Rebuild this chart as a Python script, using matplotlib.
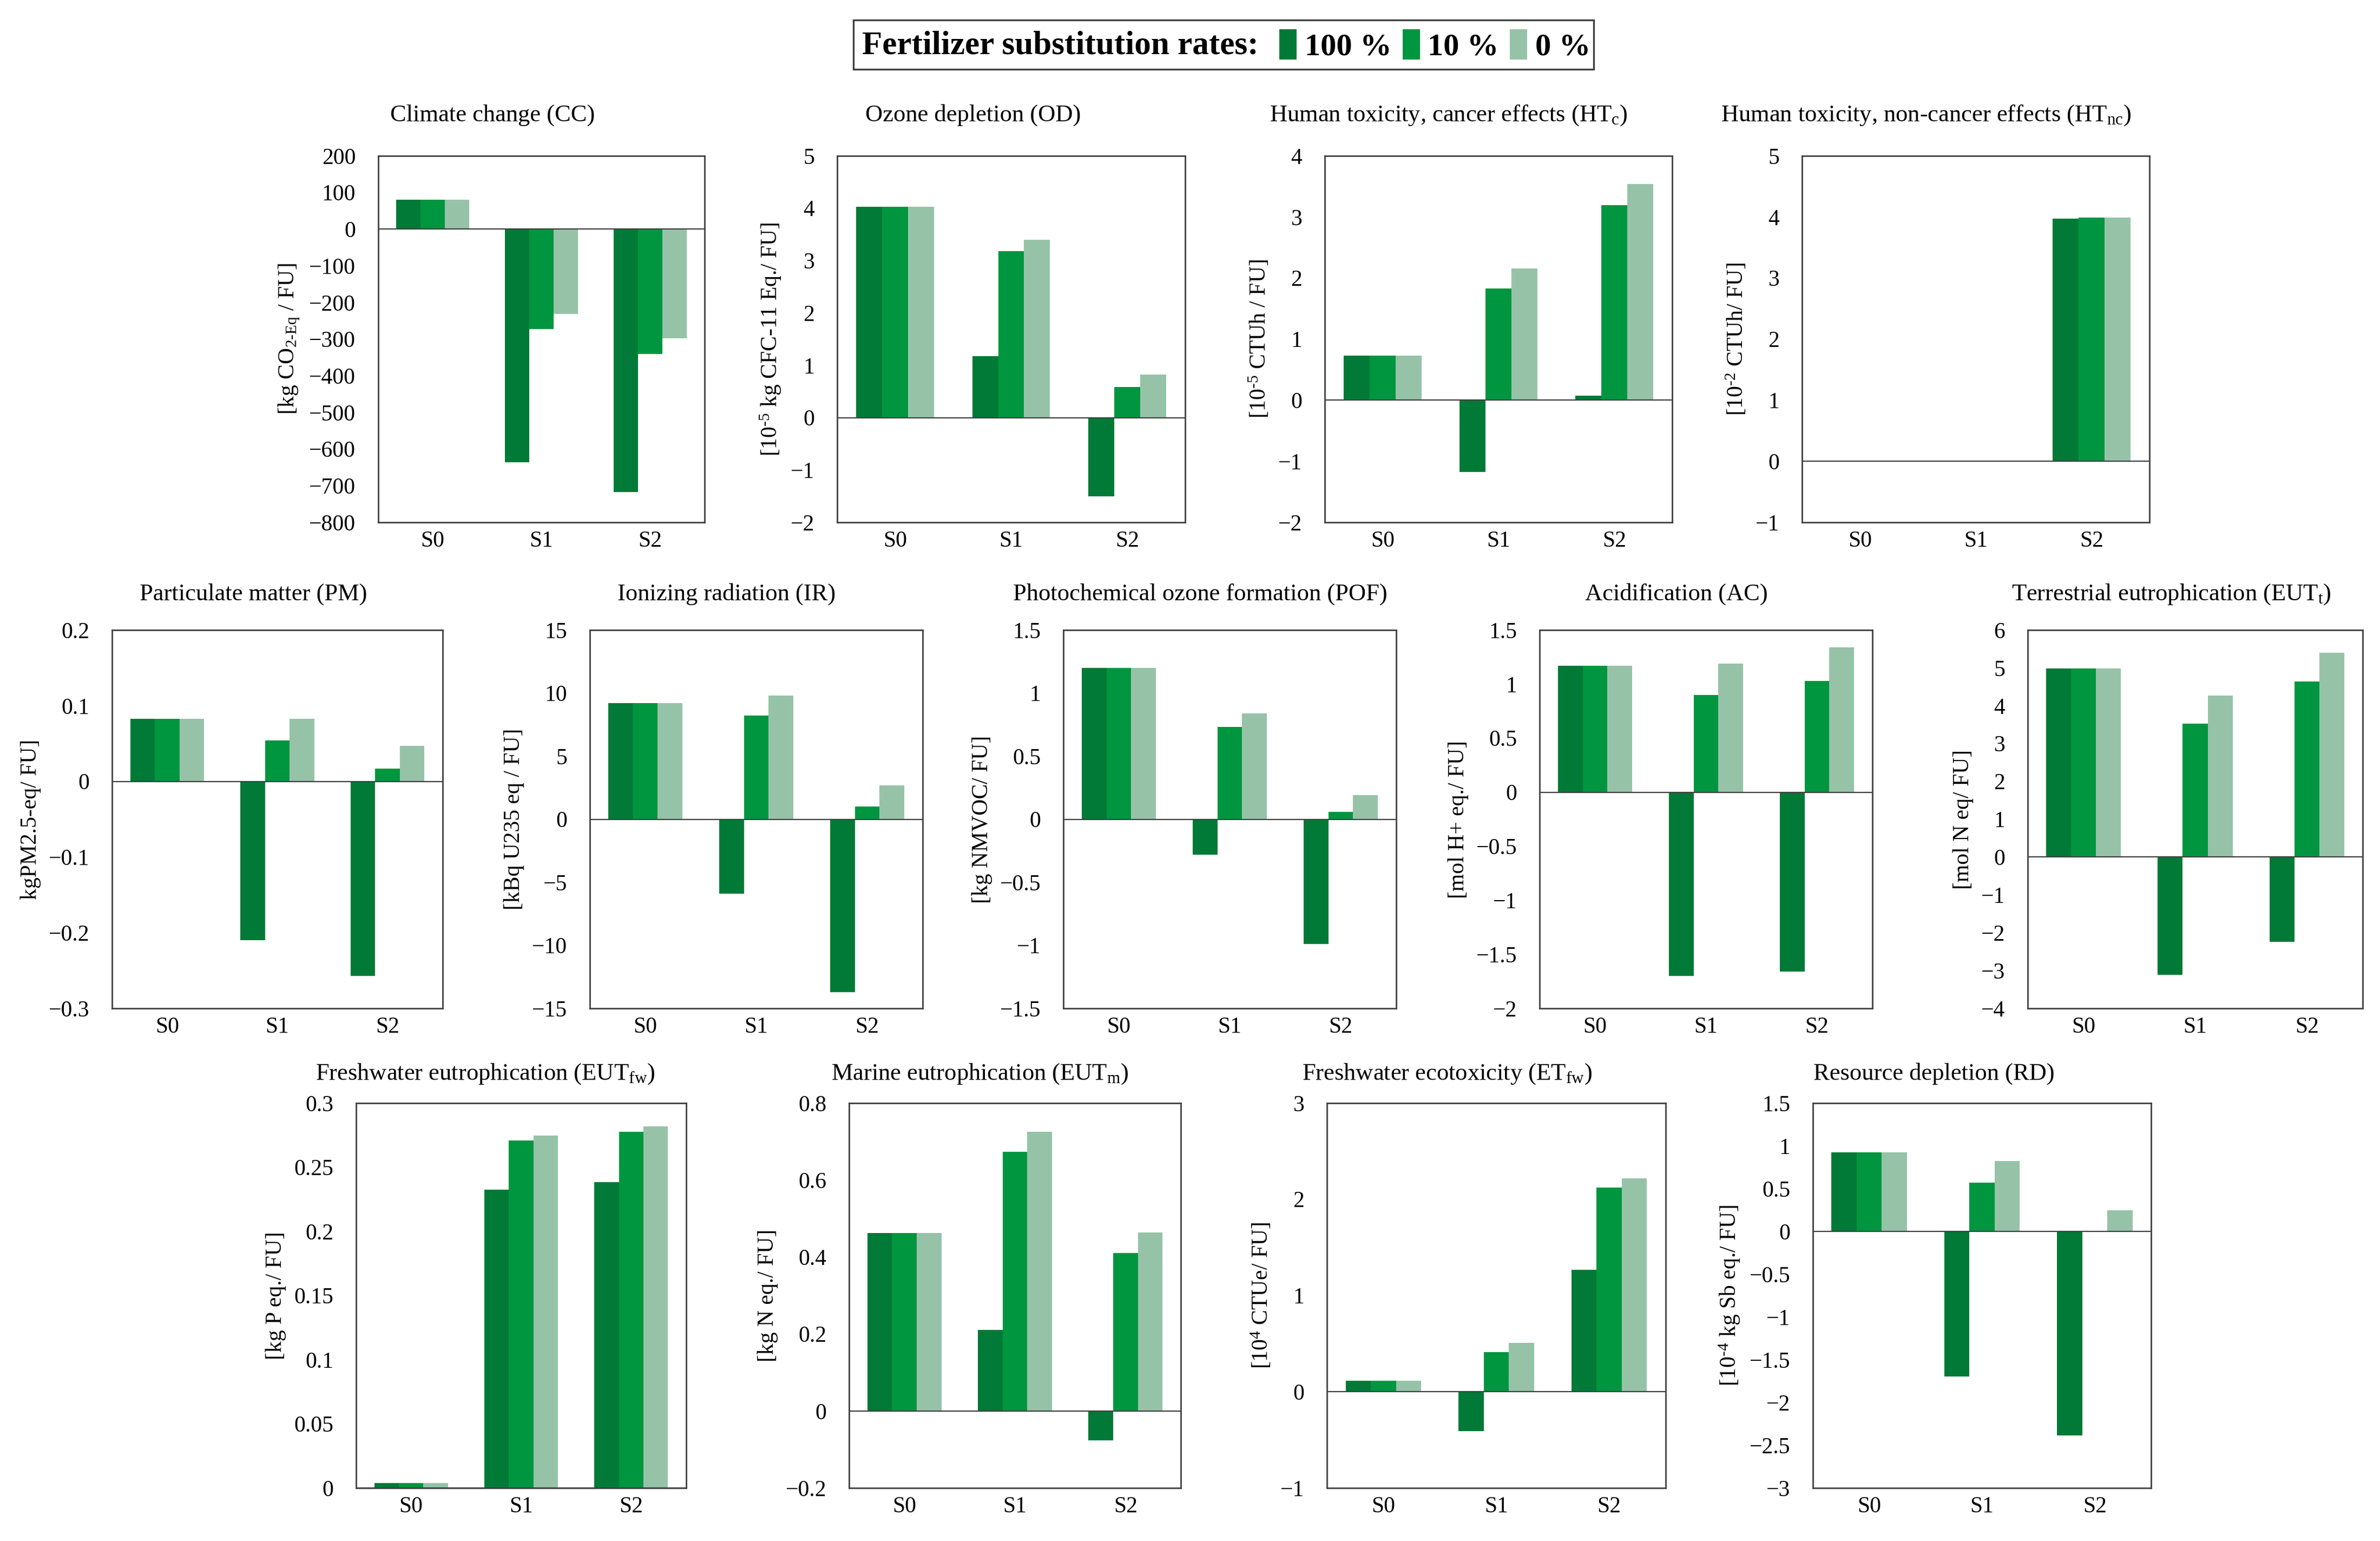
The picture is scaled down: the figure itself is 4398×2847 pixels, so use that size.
import matplotlib
matplotlib.use('Agg')
import matplotlib.pyplot as plt
import numpy as np
from matplotlib.patches import Rectangle, Patch

plt.rcParams['font.family'] = ['Liberation Serif', 'DejaVu Serif']
plt.rcParams['mathtext.fontset'] = 'custom'
plt.rcParams['mathtext.rm'] = 'Liberation Serif'
plt.rcParams['mathtext.it'] = 'Liberation Serif:italic'
plt.rcParams['mathtext.bf'] = 'Liberation Serif:bold'

# ---------------- data ----------------
scenarios = ['S0', 'S1', 'S2']
rates = ['100 %', '10 %', '0 %']
colors = ['#007A36', '#00963F', '#96C3A8']

# each: [rate 100 %, rate 10 %, rate 0 %] x [S0, S1, S2]
cc_vals = [[81, -636, -717], [81, -273, -340], [81, -232, -298]]
od_vals = [[4.03, 1.17, -1.50], [4.03, 3.18, 0.59], [4.03, 3.40, 0.82]]
htc_vals = [[0.73, -1.18, 0.07], [0.73, 1.83, 3.19], [0.73, 2.16, 3.54]]
htnc_vals = [[0.0, 0.0, 3.97], [0.0, 0.0, 3.99], [0.0, 0.0, 3.99]]
pm_vals = [[0.083, -0.210, -0.257], [0.083, 0.054, 0.017], [0.083, 0.083, 0.047]]
ir_vals = [[9.2, -5.9, -13.7], [9.2, 8.2, 1.0], [9.2, 9.8, 2.7]]
pof_vals = [[1.20, -0.28, -0.99], [1.20, 0.73, 0.06], [1.20, 0.84, 0.19]]
ac_vals = [[1.17, -1.70, -1.66], [1.17, 0.90, 1.03], [1.17, 1.19, 1.34]]
eutt_vals = [[4.98, -3.11, -2.24], [4.98, 3.53, 4.64], [4.98, 4.27, 5.40]]
eutfw_vals = [[0.0036, 0.2327, 0.2385], [0.0036, 0.2707, 0.2775], [0.0036, 0.2748, 0.2820]]
eutm_vals = [[0.462, 0.211, -0.076], [0.462, 0.674, 0.410], [0.462, 0.725, 0.464]]
etfw_vals = [[0.114, -0.41, 1.27], [0.114, 0.41, 2.12], [0.114, 0.505, 2.22]]
rd_vals = [[0.925, -1.695, -2.384], [0.925, 0.571, 0.0], [0.925, 0.822, 0.25]]

titles = [
    'Climate change (CC)', 'Ozone depletion (OD)',
    r'Human toxicity, cancer effects (HT$_{\mathrm{c}}$)',
    r'Human toxicity, non-cancer effects (HT$_{\mathrm{nc}}$)',
    'Particulate matter (PM)', 'Ionizing radiation (IR)',
    'Photochemical ozone formation (POF)', 'Acidification (AC)',
    r'Terrestrial eutrophication (EUT$_{\mathrm{t}}$)',
    r'Freshwater eutrophication (EUT$_{\mathrm{fw}}$)',
    r'Marine eutrophication (EUT$_{\mathrm{m}}$)',
    r'Freshwater ecotoxicity (ET$_{\mathrm{fw}}$)',
    'Resource depletion (RD)',
]
ylabels = [
    r'[kg CO$_{\mathrm{2\text{-}Eq}}$ / FU]',
    r'[10$^{\text{-}\mathrm{5}}$ kg CFC-11 Eq./ FU]',
    r'[10$^{\text{-}\mathrm{5}}$ CTUh / FU]',
    r'[10$^{\text{-}\mathrm{2}}$ CTUh/ FU]',
    'kgPM2.5-eq/ FU]',
    '[kBq U235 eq / FU]',
    '[kg NMVOC/ FU]',
    '[mol H+ eq./ FU]',
    '[mol N eq/ FU]',
    '[kg P eq./ FU]',
    '[kg N eq./ FU]',
    r'[10$^{\mathrm{4}}$ CTUe/ FU]',
    r'[10$^{\text{-}\mathrm{4}}$ kg Sb eq./ FU]',
]
all_vals = [cc_vals, od_vals, htc_vals, htnc_vals, pm_vals, ir_vals, pof_vals,
            ac_vals, eutt_vals, eutfw_vals, eutm_vals, etfw_vals, rd_vals]
y_ranges = [(-800, 200, 100), (-2, 5, 1), (-2, 4, 1), (-1, 5, 1),
            (-0.3, 0.2, 0.1), (-15, 15, 5), (-1.5, 1.5, 0.5), (-2, 1.5, 0.5),
            (-4, 6, 1), (0, 0.3, 0.05), (-0.2, 0.8, 0.2), (-1, 3, 1),
            (-3, 1.5, 0.5)]

# ---------------- layout (pixels) ----------------
W, H = 4398, 2847
# left, right, top, bottom
rects = [
    (699, 1302, 288, 965), (1547, 2190, 288, 965), (2448, 3090, 288, 965),
    (3330, 3972, 288, 965),
    (207, 818, 1164, 1863), (1090, 1705, 1164, 1863), (1965, 2580, 1164, 1863),
    (2845, 3460, 1164, 1863), (3747, 4366, 1164, 1863),
    (658, 1268, 2038, 2749), (1569, 2182, 2038, 2749), (2452, 3078, 2038, 2749),
    (3350, 3975, 2038, 2749),
]
title_dx = [-90, -70, -92, -92, -44, -55, -55, -55, -44, -66, -65, -91, -89]
title_dy = [75, 75, 75, 75, 66, 66, 66, 66, 66, 54, 54, 54, 54]

spine_c = '#404040'
fig = plt.figure(figsize=(W / 200, H / 200), dpi=200)


def fmt(v):
    v = round(v, 6)
    if abs(v) < 1e-9:
        return '0'
    s = f'{v:g}'
    return s.replace('-', '\u2212')


for k in range(13):
    l, r, t, b = rects[k]
    ax = fig.add_axes([l / W, 1 - b / H, (r - l) / W, (b - t) / H])
    x = np.arange(len(scenarios))
    w = 0.223
    vals = all_vals[k]
    for i in range(3):
        ax.bar(x + (i - 1) * w, vals[i], w, color=colors[i], linewidth=0, zorder=1)
    ax.axhline(0, color=spine_c, lw=0.8, zorder=3)
    lo, hi, st = y_ranges[k]
    ax.set_xlim(-0.5, 2.5)
    ax.set_ylim(lo, hi)
    ticks = np.round(np.arange(lo, hi + st / 2, st), 6)
    ax.set_yticks(ticks)
    ax.set_yticklabels([fmt(v) for v in ticks])
    ax.set_xticks(x)
    ax.set_xticklabels(scenarios)
    ax.tick_params(axis='y', length=0, pad=15, labelsize=15)
    ax.tick_params(axis='x', length=0, pad=5.5, labelsize=15)
    for sp in ax.spines.values():
        sp.set_color(spine_c)
        sp.set_linewidth(1.0)
    ax.set_ylabel(ylabels[k], fontsize=15, labelpad=5)
    ax.text(0.5 + title_dx[k] / (r - l), 1 + title_dy[k] / (b - t), titles[k],
            transform=ax.transAxes, ha='center', va='center', fontsize=16)

# ---------------- legend ----------------
fig.patches.append(Rectangle((1577 / W, 1 - 128 / H), (2945 - 1577) / W, (128 - 37) / H,
                             transform=fig.transFigure, fill=False,
                             edgecolor=spine_c, linewidth=1.2))
fig.text(1593 / W, 1 - 84 / H, 'Fertilizer substitution rates:', ha='left', va='center',
         fontsize=22, fontweight='bold')
handles = [Patch(facecolor=c, edgecolor='none') for c in colors]
leg = fig.legend(handles, rates, loc='center left', bbox_to_anchor=(2364 / W, 1 - 84 / H),
                 ncol=3, frameon=False, borderpad=0, borderaxespad=0,
                 handlelength=0.55, handleheight=1.1, handletextpad=0.25,
                 columnspacing=0.35, prop={'size': 21, 'weight': 'bold'})

fig.savefig('out.png', dpi=200)
